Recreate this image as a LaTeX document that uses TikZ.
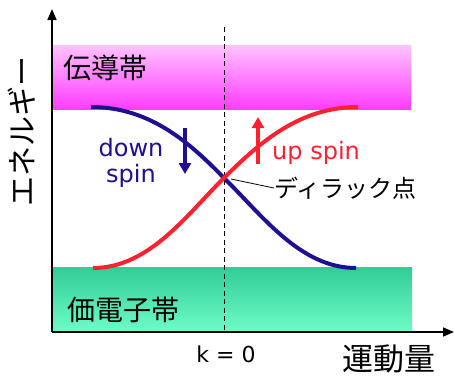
\documentclass[tikz,border=0pt]{standalone}
\usepackage{fontspec}
\setmainfont{DejaVu Sans}
\newfontfamily\jp{Noto Sans CJK JP}
\usetikzlibrary{arrows.meta}
\definecolor{spinblue}{HTML}{1E1090}
\definecolor{spinred}{HTML}{FF2030}
\tikzset{
  axis/.style={line width=1.6pt,-{Triangle[length=11pt,width=9pt]}},
  curve/.style={line width=4pt},
  spinarrow/.style={line width=3.5pt,-{Triangle[length=11pt,width=12pt]}},
  lbl/.style={inner sep=0pt},
}
\begin{document}
\begin{tikzpicture}[x=1pt,y=-1pt]
\useasboundingbox[fill=white] (0,0) rectangle (454,376);
% bands
\shade[top color={rgb,255:red,255;green,195;blue,255}, bottom color={rgb,255:red,255;green,60;blue,255}] (52,45) rectangle (411,109);
\shade[top color={rgb,255:red,50;green,204;blue,150}, bottom color={rgb,255:red,110;green,252;blue,200}] (52,267) rectangle (412,332);
% dashed k=0
\coordinate (dtop) at (224,27);
\coordinate (dbot) at (224,332);
\draw[line width=1pt, dash pattern=on 5pt off 3.5pt] (dtop) -- (dbot);
% axes
\coordinate (O) at (52,332);
\coordinate (ytip) at (52,9);
\coordinate (xtip) at (454,332);
\draw[axis] (O) -- (ytip);
\draw[axis] (O) -- (xtip);
% curves
\coordinate (dirac) at (224,178);
\draw[curve, spinblue] (91,107) .. controls (150,107) and (190,143) .. (dirac) .. controls (262,215) and (300,268) .. (356,268);
\draw[curve, spinred] (93,268) .. controls (150,268) and (188,213) .. (dirac) .. controls (260,142) and (300,107) .. (358,107);
% spin arrows
\coordinate (da1) at (185,128);
\coordinate (da2) at (185,174);
\coordinate (ua1) at (258,164);
\coordinate (ua2) at (258,117);
\draw[spinarrow, spinblue] (da1) -- (da2);
\draw[spinarrow, spinred] (ua1) -- (ua2);
% labels
\node[lbl, text=spinblue, align=center, font=\fontsize{24}{26}\selectfont] (down) at (131,163) {down\\spin};
\node[lbl, text=spinred, anchor=west, font=\fontsize{24}{26}\selectfont] (up) at (272,153) {up spin};
\node[lbl, anchor=west, font=\jp\fontsize{24}{26}\selectfont] (dlabel) at (274,188) {ディラック点};
\draw[line width=0.8pt] (231,179) -- (dlabel.west);
\node[lbl, anchor=west, font=\jp\fontsize{28}{30}\selectfont] (cb) at (63,68) {伝導帯};
\node[lbl, anchor=west, font=\jp\fontsize{28}{30}\selectfont] (vb) at (67,310) {価電子帯};
\node[lbl, rotate=90, font=\jp\fontsize{30}{32}\selectfont] (en) at (22,131) {エネルギー};
\node[lbl, font=\jp\fontsize{31}{33}\selectfont] (mom) at (389,359) {運動量};
\node[lbl, font=\fontsize{22}{24}\selectfont] (k0) at (226,354) {k = 0};
\end{tikzpicture}
\end{document}
